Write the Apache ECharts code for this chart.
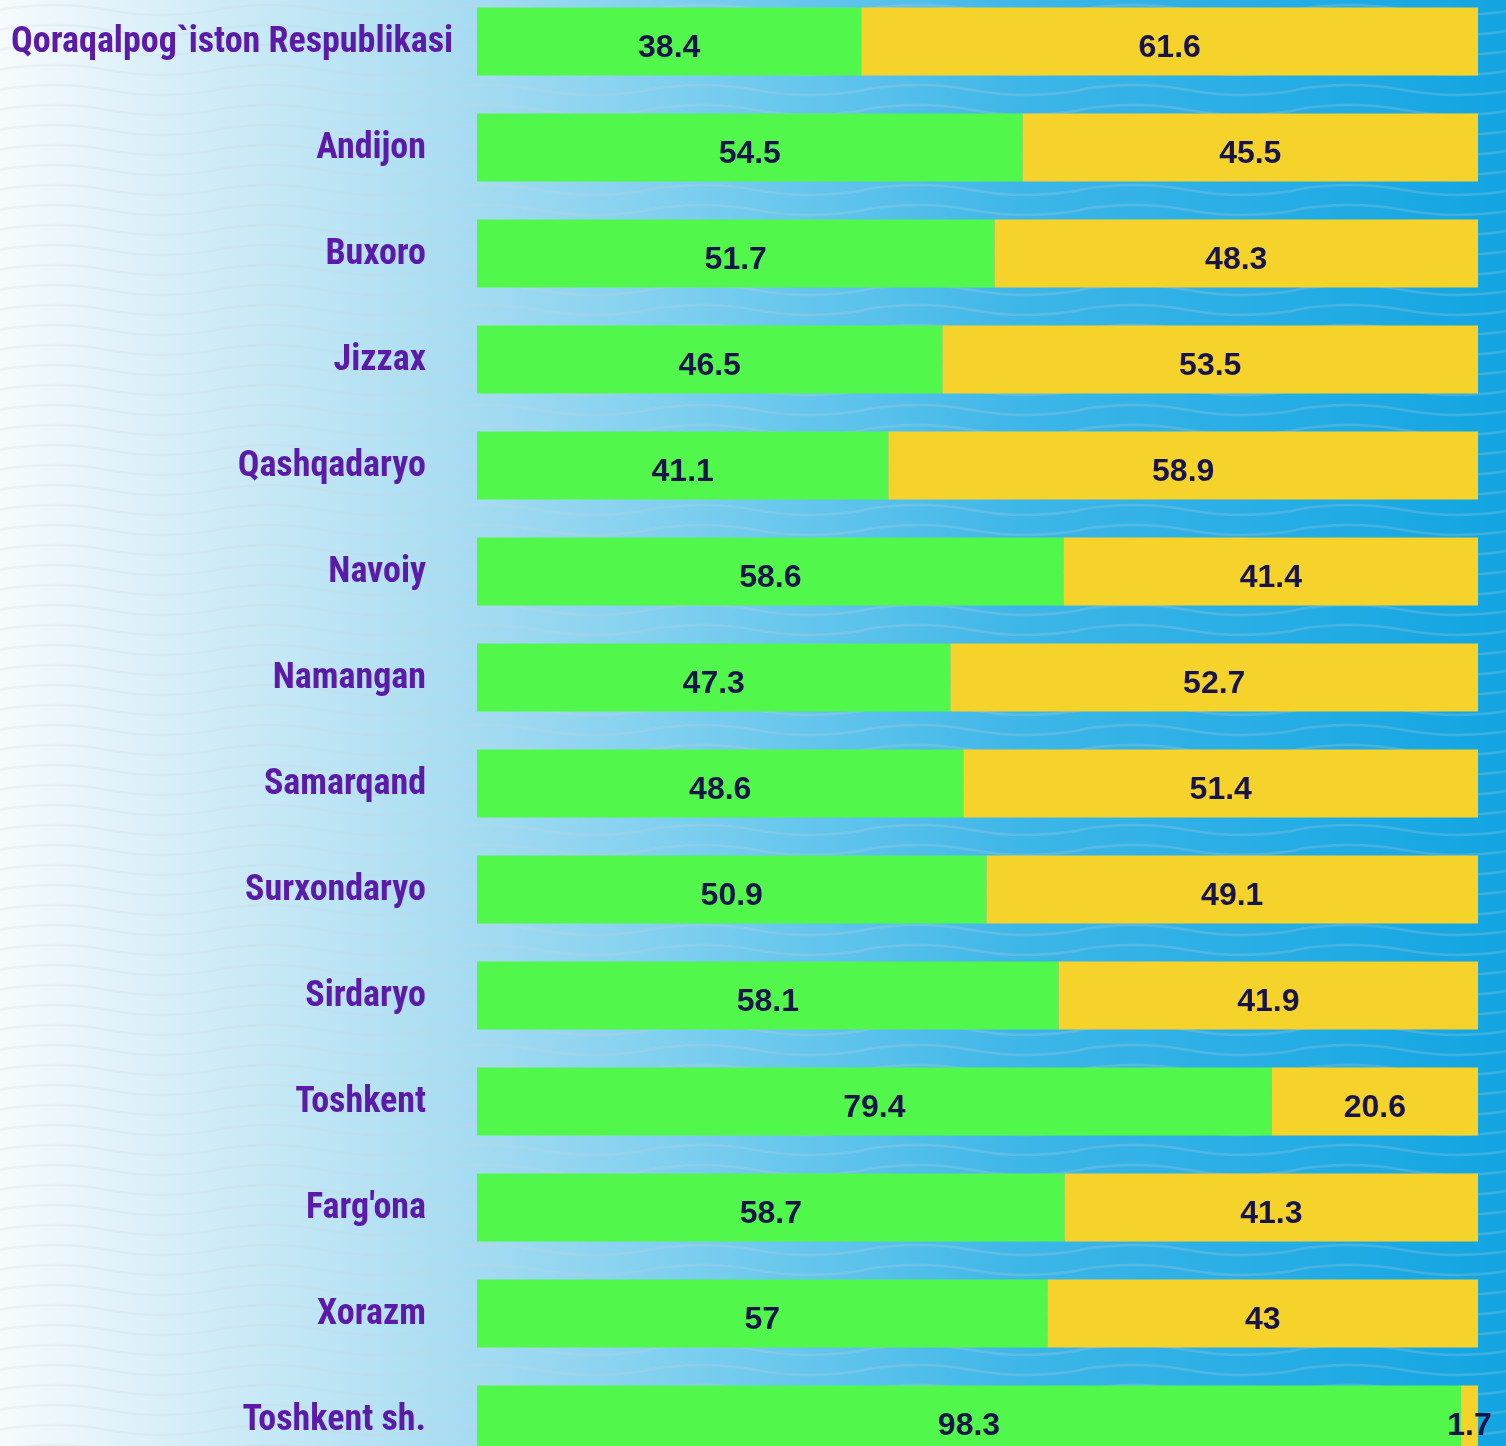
<!DOCTYPE html>
<html lang="en">
<head>
    <meta charset="UTF-8">
    <title>Regions</title>
    <script type="text/javascript" src="https://cdn.jsdelivr.net/npm/echarts@6/dist/echarts.min.js"></script>
    <style>
        html, body {
            margin: 0;
            padding: 0;
            width: 1506px;
            height: 1446px;
            overflow: hidden;
        }
        body {
            background-color: #7fcdee;
        }
        #main {
            position: absolute;
            left: 0;
            top: -12px;
            width: 1506px;
            height: 1485px;
        }
    </style>
</head>
<body>
<div id="main"></div>
<script>
    // hududlar (yuqoridan pastga)
    var regions = ['Qoraqalpog`iston Respublikasi', 'Andijon', 'Buxoro', 'Jizzax', 'Qashqadaryo', 'Navoiy', 'Namangan',
        'Samarqand', 'Surxondaryo', 'Sirdaryo', 'Toshkent', "Farg'ona", 'Xorazm', 'Toshkent sh.']
    var greenVals = [38.4, 54.5, 51.7, 46.5, 41.1, 58.6, 47.3, 48.6, 50.9, 58.1, 79.4, 58.7, 57, 98.3]
    var yellowVals = [61.6, 45.5, 48.3, 53.5, 58.9, 41.4, 52.7, 51.4, 49.1, 41.9, 20.6, 41.3, 43, 1.7]

    // fon: gradient + to'lqinlar
    var wave = '<svg xmlns="http://www.w3.org/2000/svg" width="216" height="20">' +
        '<path d="M-2 10 Q54 0 108 10 T218 10" fill="none" stroke="rgba(205,210,216,0.22)" stroke-width="2.5"/></svg>'
    document.body.style.backgroundImage = 'url("data:image/svg+xml,' + encodeURIComponent(wave) + '"), ' +
        'linear-gradient(to right, #f6fbfd 0%, #cdebf7 15%, #a9ddf2 30%, #6fcaee 50%, #3db6e8 68%, #12a5e2 100%)'

    var chart = echarts.init(document.getElementById('main'))

    var labelFont = '"Roboto Condensed", "Liberation Sans Narrow", "DejaVu Sans Condensed", Roboto, sans-serif'

    var valueLabel = {
        show: true,
        position: 'inside',
        color: '#17134b',
        fontSize: 32,
        fontWeight: 'bold',
        fontFamily: '"Liberation Sans", Arial, sans-serif',
        offset: [0, 7]
    }

    var option = {
        backgroundColor: 'transparent',
        animation: false,
        grid: {
            left: 477,
            right: 28,
            top: 0.5,
            bottom: 0.5,
            containLabel: false,
            outerBoundsMode: 'none'
        },
        xAxis: {
            type: 'value',
            min: 0,
            max: 100,
            show: false
        },
        yAxis: {
            type: 'category',
            inverse: true,
            data: regions,
            axisLine: {show: false},
            axisTick: {show: false},
            splitLine: {show: false},
            axisLabel: {
                margin: 51,
                color: '#5c1aa8',
                fontSize: 36,
                fontWeight: 'bold',
                fontFamily: labelFont,
                padding: [3, 0, 0, 0],
                formatter: function (v, i) {
                    // birinchi nom uzun, chapdan boshlanadi
                    return i === 0 ? '{wide|' + v + '}' : v
                },
                rich: {
                    wide: {
                        width: 415,
                        align: 'left',
                        color: '#5c1aa8',
                        fontSize: 36,
                        fontWeight: 'bold',
                        fontFamily: labelFont
                    }
                }
            }
        },
        series: [{
            name: 'green',
            type: 'bar',
            stack: 'total',
            barWidth: 68,
            itemStyle: {color: '#52f74b'},
            label: valueLabel,
            data: greenVals
        }, {
            name: 'yellow',
            type: 'bar',
            stack: 'total',
            barWidth: 68,
            itemStyle: {color: '#f5d32b'},
            label: valueLabel,
            data: yellowVals
        }]
    }

    chart.setOption(option)
</script>
</body>
</html>
